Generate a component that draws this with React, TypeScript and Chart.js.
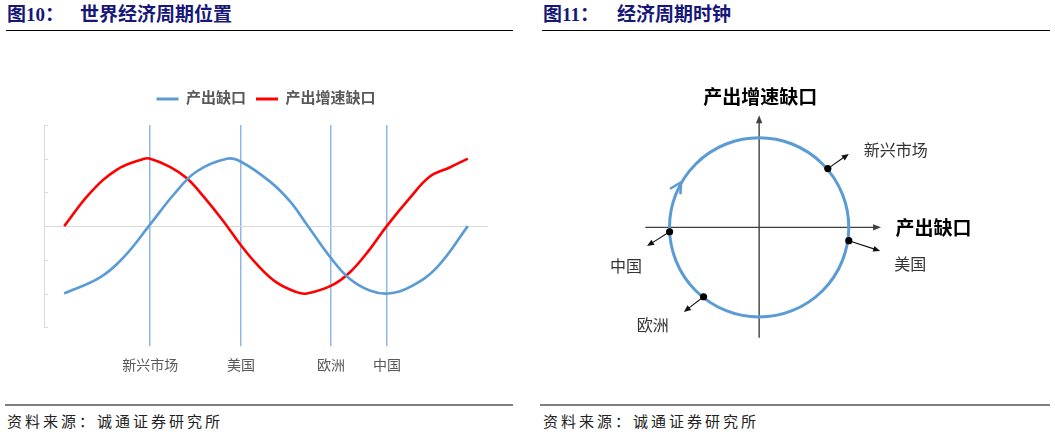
import React, { useEffect, useRef } from "react";
import { Chart, registerables } from "chart.js";

Chart.register(...registerables);

// ---------- Left panel data (世界经济周期位置) ----------
const SERIES_NAMES = ["产出缺口", "产出增速缺口"];
const GAP_X = [0, 8.9, 14.7, 21.3, 27.1, 32.8, 40.3, 43.8, 51.0, 55.9, 60.1, 66.3, 70.8, 75.7, 80.3, 85.6, 92.3, 100];
const GAP_Y = [-2.0, -1.52, -0.93, 0.05, 0.93, 1.62, 2.0, 1.91, 1.32, 0.74, 0.05, -0.98, -1.57, -1.91, -2.0, -1.81, -1.23, 0];
const GROWTH_X = [0, 6.4, 13.0, 19.6, 21.3, 26.2, 30.4, 34.5, 39.4, 43.6, 47.7, 52.6, 57.6, 60.1, 66.3, 70.8, 75.7, 79.9, 85.6, 90.6, 95.5, 100];
const GROWTH_Y = [0, 0.98, 1.67, 1.99, 2.0, 1.76, 1.42, 0.88, 0.15, -0.54, -1.13, -1.67, -1.96, -2.0, -1.76, -1.37, -0.69, 0, 0.83, 1.47, 1.74, 2.0];
const MARKET_NAMES = ["新兴市场", "美国", "欧洲", "中国"];
const MARKET_X = [21.3, 43.8, 66.1, 80.0];
const Y_TICKS = [-3, -2, -1, 0, 1, 2, 3];

// ---------- Right panel data (经济周期时钟) ----------
const CLOCK_NAMES = ["新兴市场", "美国", "中国", "欧洲"];
const CLOCK_X = [0.766, 1.0, -0.999, -0.62];
const CLOCK_Y = [0.66, -0.15, -0.05, -0.78];
const ARROW_END_X = [1.0, 1.35, -1.25, -0.84];
const ARROW_END_Y = [0.825, -0.265, -0.21, -0.95];
const AXIS_X_LABEL = "产出缺口";
const AXIS_Y_LABEL = "产出增速缺口";

const BLUE = "#5b9bd5";
const RED = "#ff0000";
const SERIF = '"Liberation Serif", "Noto Sans CJK SC", serif';
const SANS = '"Noto Sans CJK SC", "Noto Sans", sans-serif';

function LeftChart() {
  const ref = useRef<HTMLCanvasElement | null>(null);
  useEffect(() => {
    if (!ref.current) return;
    const yTickMarks = {
      id: "yTickMarks",
      afterDraw(chart: any) {
        const { ctx, chartArea, scales } = chart;
        const y = scales.y;
        ctx.save();
        ctx.strokeStyle = "#d9d9d9";
        ctx.lineWidth = 1;
        Y_TICKS.forEach((v) => {
          const py = Math.round(y.getPixelForValue(v)) + 0.5;
          ctx.beginPath();
          ctx.moveTo(chartArea.left, py);
          ctx.lineTo(chartArea.left + 4, py);
          ctx.stroke();
        });
        ctx.restore();
      },
    };
    const chart = new Chart(ref.current, {
      type: "scatter",
      data: {
        datasets: [
          {
            label: SERIES_NAMES[0],
            data: GAP_X.map((x, i) => ({ x, y: GAP_Y[i] })),
            borderColor: BLUE,
            backgroundColor: BLUE,
            borderWidth: 2.6,
            showLine: true,
            pointRadius: 0,
            tension: 0.4,
          },
          {
            label: SERIES_NAMES[1],
            data: GROWTH_X.map((x, i) => ({ x, y: GROWTH_Y[i] })),
            borderColor: RED,
            backgroundColor: RED,
            borderWidth: 2.6,
            showLine: true,
            pointRadius: 0,
            tension: 0.4,
          },
        ],
      },
      options: {
        animation: false,
        responsive: false,
        maintainAspectRatio: false,
        layout: { padding: { top: 21.5, left: 44, right: 32, bottom: 5 } },
        plugins: {
          tooltip: { enabled: false },
          title: {
            display: true,
            text: " ",
            weight: 500,
            font: { size: 1 },
            padding: { top: 0, bottom: 7.3 },
          } as any,
          legend: {
            display: true,
            position: "top",
            labels: {
              boxWidth: 22,
              boxHeight: 3,
              padding: 10,
              color: "#595959",
              font: { family: SERIF, size: 15, weight: "bold" },
              generateLabels: (c: any) =>
                Chart.defaults.plugins.legend.labels
                  .generateLabels(c)
                  .map((l: any) => ({ ...l, lineWidth: 0 })),
            },
          },
        },
        scales: {
          x: {
            type: "linear",
            min: -5,
            max: 105,
            border: { display: false },
            afterBuildTicks: (scale: any) => {
              scale.ticks = MARKET_X.map((v) => ({ value: v }));
            },
            grid: {
              color: "#8fb9e3",
              lineWidth: 1.5,
              tickLength: 19,
              drawOnChartArea: true,
            },
            ticks: {
              autoSkip: false,
              maxRotation: 0,
              padding: 12,
              color: "#595959",
              font: { family: SERIF, size: 14 },
              callback: (_v: any, i: number) => MARKET_NAMES[i],
            },
          },
          y: {
            type: "linear",
            min: -3,
            max: 3,
            afterBuildTicks: (scale: any) => {
              scale.ticks = Y_TICKS.map((v) => ({ value: v }));
            },
            border: { display: true, color: "#d9d9d9", width: 1 },
            grid: {
              drawTicks: false,
              color: (ctx: any) => (ctx.tick && ctx.tick.value === 0 ? "#d9d9d9" : "rgba(0,0,0,0)"),
              lineWidth: 1,
            },
            ticks: { display: false },
          },
        },
      },
      plugins: [yTickMarks],
    });
    return () => chart.destroy();
  }, []);
  return (
    <canvas
      ref={ref}
      width={520}
      height={332}
      style={{ position: "absolute", left: 0, top: 60, width: 520, height: 332 }}
    />
  );
}

function RightChart() {
  const ref = useRef<HTMLCanvasElement | null>(null);
  useEffect(() => {
    if (!ref.current) return;
    const drawArrowHead = (ctx: any, x1: number, y1: number, x2: number, y2: number, len: number, half: number) => {
      const a = Math.atan2(y2 - y1, x2 - x1);
      ctx.beginPath();
      ctx.moveTo(x2, y2);
      ctx.lineTo(x2 - len * Math.cos(a) + half * Math.sin(a), y2 - len * Math.sin(a) - half * Math.cos(a));
      ctx.lineTo(x2 - len * Math.cos(a) - half * Math.sin(a), y2 - len * Math.sin(a) + half * Math.cos(a));
      ctx.closePath();
      ctx.fill();
    };
    const clockPlugin = {
      id: "clockPlugin",
      beforeDatasetsDraw(chart: any) {
        const { ctx, scales } = chart;
        const sx = scales.x;
        const sy = scales.y;
        const px = (v: number) => sx.getPixelForValue(v);
        const py = (v: number) => sy.getPixelForValue(v);
        const cx = px(0);
        const cy = py(0);
        const r = px(1) - px(0);
        ctx.save();
        // axes
        ctx.strokeStyle = "#404040";
        ctx.fillStyle = "#404040";
        ctx.lineWidth = 1.4;
        ctx.beginPath();
        ctx.moveTo(px(-1.27), cy);
        ctx.lineTo(px(1.36) - 6, cy);
        ctx.stroke();
        drawArrowHead(ctx, px(-1.27), cy, px(1.36), cy, 8, 3.2);
        ctx.beginPath();
        ctx.moveTo(cx, py(-1.24));
        ctx.lineTo(cx, py(1.26) + 6);
        ctx.stroke();
        drawArrowHead(ctx, cx, py(-1.24), cx, py(1.26), 8, 3.2);
        // circle
        ctx.strokeStyle = BLUE;
        ctx.lineWidth = 3;
        ctx.beginPath();
        ctx.arc(cx, cy, r, 0, Math.PI * 2);
        ctx.stroke();
        // direction chevron
        const ang = (152 * Math.PI) / 180;
        const tx = cx + r * Math.cos(ang);
        const ty = cy - r * Math.sin(ang);
        ctx.lineWidth = 2.6;
        ctx.lineCap = "round";
        ctx.beginPath();
        ctx.moveTo(tx - 9, ty + 3);
        ctx.lineTo(tx + 1, ty - 3);
        ctx.lineTo(tx + 0.5, ty + 8);
        ctx.stroke();
        // country arrows
        ctx.strokeStyle = "#111";
        ctx.fillStyle = "#111";
        ctx.lineWidth = 1.1;
        ctx.lineCap = "butt";
        CLOCK_X.forEach((x, i) => {
          const x1 = px(x);
          const y1 = py(CLOCK_Y[i]);
          const x2 = px(ARROW_END_X[i]);
          const y2 = py(ARROW_END_Y[i]);
          const a = Math.atan2(y2 - y1, x2 - x1);
          ctx.beginPath();
          ctx.moveTo(x1, y1);
          ctx.lineTo(x2 - 5 * Math.cos(a), y2 - 5 * Math.sin(a));
          ctx.stroke();
          drawArrowHead(ctx, x1, y1, x2, y2, 7, 3);
        });
        ctx.restore();
      },
      afterDraw(chart: any) {
        const { ctx, scales } = chart;
        const px = (v: number) => scales.x.getPixelForValue(v);
        const py = (v: number) => scales.y.getPixelForValue(v);
        ctx.save();
        ctx.fillStyle = "#000";
        ctx.textBaseline = "middle";
        ctx.font = `bold 19px ${SANS}`;
        ctx.textAlign = "center";
        ctx.fillText(AXIS_Y_LABEL, px(0) + 1, py(1.465));
        ctx.textAlign = "left";
        ctx.fillText(AXIS_X_LABEL, px(1.52), py(-0.01));
        // country labels
        const offsets = [
          [15, -4, "left"],
          [14, 12.5, "left"],
          [-5, 19.5, "right"],
          [-15, 13, "right"],
        ] as any[];
        ctx.font = `16px ${SANS}`;
        ctx.fillStyle = "#333";
        CLOCK_NAMES.forEach((name, i) => {
          const [dx, dy, al] = offsets[i];
          ctx.textAlign = al;
          ctx.fillText(name, px(ARROW_END_X[i]) + dx, py(ARROW_END_Y[i]) + dy);
        });
        ctx.restore();
      },
    };
    const chart = new Chart(ref.current, {
      type: "scatter",
      data: {
        datasets: [
          {
            label: "clock",
            data: CLOCK_X.map((x, i) => ({ x, y: CLOCK_Y[i] })),
            pointRadius: 3.6,
            pointBackgroundColor: "#000",
            pointBorderColor: "#000",
            pointBorderWidth: 0,
          },
        ],
      },
      options: {
        animation: false,
        responsive: false,
        maintainAspectRatio: false,
        layout: { padding: 0 },
        plugins: { legend: { display: false }, tooltip: { enabled: false } },
        scales: {
          x: { type: "linear", min: -2.4, max: 3.2, display: false },
          y: { type: "linear", min: -1.94, max: 2.06, display: false },
        },
      },
      plugins: [clockPlugin],
    });
    return () => chart.destroy();
  }, []);
  return (
    <canvas
      ref={ref}
      width={510}
      height={364}
      style={{ position: "absolute", left: 540, top: 40, width: 510, height: 364 }}
    />
  );
}

const titleStyle: React.CSSProperties = {
  position: "absolute",
  top: 3,
  fontFamily: SERIF,
  fontWeight: "bold",
  fontSize: 19,
  color: "#17177a",
  whiteSpace: "nowrap",
  lineHeight: "24px",
};
const footStyle: React.CSSProperties = {
  position: "absolute",
  top: 410,
  fontFamily: SANS,
  fontSize: 15,
  letterSpacing: 3,
  color: "#222",
  whiteSpace: "nowrap",
  lineHeight: "22px",
};

export default function App() {
  return (
    <div
      style={{
        position: "absolute",
        left: 0,
        top: 0,
        width: 1055,
        height: 436,
        background: "#fff",
        overflow: "hidden",
      }}
    >
      <div style={{ ...titleStyle, left: 7 }}>图10：</div>
      <div style={{ ...titleStyle, left: 80 }}>世界经济周期位置</div>
      <div style={{ ...titleStyle, left: 543 }}>图11：</div>
      <div style={{ ...titleStyle, left: 617 }}>经济周期时钟</div>
      <div style={{ position: "absolute", left: 6, top: 30, width: 507, height: 1, background: "#000" }} />
      <div style={{ position: "absolute", left: 542, top: 30, width: 508, height: 1, background: "#000" }} />
      <LeftChart />
      <RightChart />
      <div style={{ position: "absolute", left: 5, top: 404, width: 508, height: 2, background: "#808080" }} />
      <div style={{ position: "absolute", left: 540, top: 404, width: 510, height: 2, background: "#808080" }} />
      <div style={{ ...footStyle, left: 7 }}>资料来源：诚通证券研究所</div>
      <div style={{ ...footStyle, left: 543 }}>资料来源：诚通证券研究所</div>
    </div>
  );
}
